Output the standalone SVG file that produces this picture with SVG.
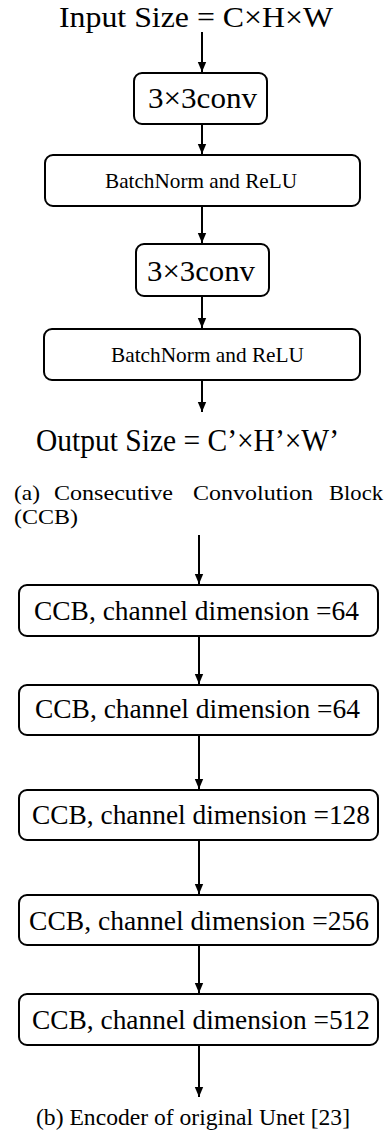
<svg xmlns="http://www.w3.org/2000/svg" width="387" height="1137" viewBox="0 0 387 1137" font-family="'Liberation Serif', 'Times New Roman', serif">
  <defs>
    <marker id="arrow" markerUnits="userSpaceOnUse" markerWidth="10" markerHeight="12" viewBox="0 0 10 12" refX="10" refY="5" orient="auto">
      <path d="M0,0.8 L10,5 L0,9.2 Z" fill="#000"/>
    </marker>
    <style>
      .box { fill: #fff; stroke: #000; stroke-width: 2; }
      .edge { stroke: #000; stroke-width: 2; fill: none; marker-end: url(#arrow); }
      text { font-family: 'Liberation Serif', 'Times New Roman', serif; fill: #000; }
      .big { font-size: 29px; }
      .out { font-size: 32px; }
      .mid { font-size: 27px; }
      .small { font-size: 21px; }
      .cap { font-size: 22px; }
      .capb { font-size: 24px; }
    </style>
  </defs>
  <rect width="387" height="1137" fill="#fff"/>

  <!-- (a) consecutive convolution block -->
  <g id="input-size">
    <text class="big" x="59" y="27" textLength="274" lengthAdjust="spacingAndGlyphs">Input Size =  C×H×W</text>
  </g>
  <g id="conv1">
    <rect class="box" x="134" y="73" width="133" height="51" rx="8"/>
    <text class="big" x="148" y="108" textLength="109" lengthAdjust="spacingAndGlyphs">3×3conv</text>
  </g>
  <g id="bn-relu1">
    <rect class="box" x="45" y="155" width="315" height="51" rx="8"/>
    <text class="small" x="105" y="188" textLength="192" lengthAdjust="spacingAndGlyphs">BatchNorm and ReLU</text>
  </g>
  <g id="conv2">
    <rect class="box" x="136" y="244" width="133" height="52" rx="8"/>
    <text class="big" x="147" y="281" textLength="108" lengthAdjust="spacingAndGlyphs">3×3conv</text>
  </g>
  <g id="bn-relu2">
    <rect class="box" x="44" y="329" width="316" height="51" rx="8"/>
    <text class="small" x="111" y="362" textLength="193" lengthAdjust="spacingAndGlyphs">BatchNorm and ReLU</text>
  </g>
  <g id="output-size">
    <text class="out" x="36" y="451" textLength="303" lengthAdjust="spacingAndGlyphs">Output Size = C’×H’×W’</text>
  </g>
  <g id="caption-a">
    <text class="cap" x="14" y="500" textLength="26" lengthAdjust="spacingAndGlyphs">(a)</text>
    <text class="cap" x="54" y="500" textLength="119" lengthAdjust="spacingAndGlyphs">Consecutive</text>
    <text class="cap" x="193" y="500" textLength="120" lengthAdjust="spacingAndGlyphs">Convolution</text>
    <text class="cap" x="329" y="500" textLength="54" lengthAdjust="spacingAndGlyphs">Block</text>
    <text class="cap" x="14" y="524" textLength="64" lengthAdjust="spacingAndGlyphs">(CCB)</text>
  </g>

  <!-- (b) encoder of the original Unet -->
  <g id="ccb64a">
    <rect class="box" x="19" y="585" width="359" height="51" rx="8"/>
    <text class="mid" x="34" y="620" textLength="325" lengthAdjust="spacingAndGlyphs">CCB, channel dimension =64</text>
  </g>
  <g id="ccb64b">
    <rect class="box" x="19" y="685" width="359" height="50" rx="8"/>
    <text class="mid" x="35" y="718" textLength="325" lengthAdjust="spacingAndGlyphs">CCB, channel dimension =64</text>
  </g>
  <g id="ccb128">
    <rect class="box" x="19" y="790" width="359" height="50" rx="8"/>
    <text class="mid" x="32" y="824" textLength="338" lengthAdjust="spacingAndGlyphs">CCB, channel dimension =128</text>
  </g>
  <g id="ccb256">
    <rect class="box" x="19" y="895" width="359" height="50" rx="8"/>
    <text class="mid" x="29" y="930" textLength="340" lengthAdjust="spacingAndGlyphs">CCB, channel dimension =256</text>
  </g>
  <g id="ccb512">
    <rect class="box" x="19" y="994" width="359" height="51" rx="8"/>
    <text class="mid" x="32" y="1029" textLength="338" lengthAdjust="spacingAndGlyphs">CCB, channel dimension =512</text>
  </g>
  <g id="caption-b">
    <text class="capb" x="36" y="1125" textLength="314" lengthAdjust="spacingAndGlyphs">(b) Encoder of original Unet [23]</text>
  </g>

  <g id="connectors">
    <line class="edge" x1="202" y1="32" x2="202" y2="72"/>
    <line class="edge" x1="202" y1="125" x2="202" y2="154"/>
    <line class="edge" x1="202" y1="207" x2="202" y2="243"/>
    <line class="edge" x1="202" y1="297" x2="202" y2="328"/>
    <line class="edge" x1="202" y1="381" x2="202" y2="412"/>
    <line class="edge" x1="199" y1="535" x2="199" y2="584"/>
    <line class="edge" x1="199" y1="637" x2="199" y2="684"/>
    <line class="edge" x1="199" y1="736" x2="199" y2="789"/>
    <line class="edge" x1="199" y1="841" x2="199" y2="894"/>
    <line class="edge" x1="199" y1="946" x2="199" y2="993"/>
    <line class="edge" x1="199" y1="1046" x2="199" y2="1097"/>
  </g>
</svg>
